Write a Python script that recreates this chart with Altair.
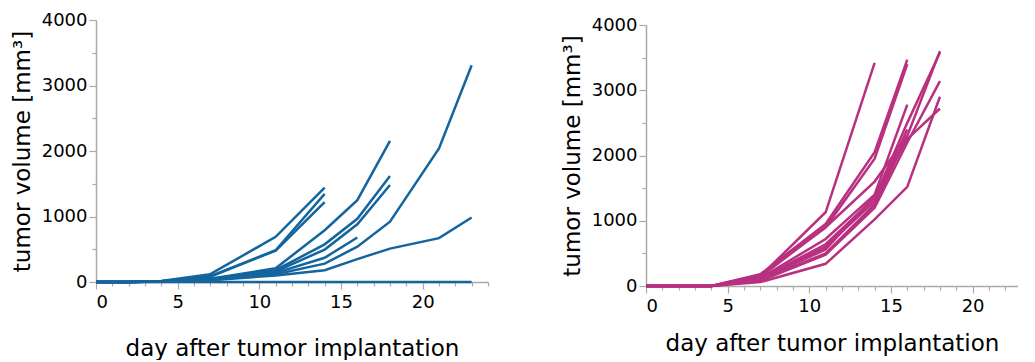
import altair as alt
import pandas as pd

BLUE = "#14659e"
MAGENTA = "#b8307f"
FONT = "DejaVu Sans"

# ---------------- left panel (blue) ----------------
left_days_14 = [0, 2, 4, 7, 11, 14]
left_days_16 = [0, 2, 4, 7, 11, 14, 16]
left_days_18 = [0, 2, 4, 7, 11, 14, 16, 18]
left_days_23 = [0, 2, 4, 7, 11, 14, 16, 18, 21, 23]

left_a = [0, 0, 15, 120, 690, 1440]
left_b = [0, 0, 12, 90, 485, 1345]
left_c = [0, 0, 12, 80, 480, 1220]
left_d = [0, 0, 10, 50, 210, 790, 1250, 2155]
left_e = [0, 0, 8, 45, 180, 575, 965, 1620]
left_f = [0, 0, 8, 40, 160, 495, 880, 1480]
left_g = [0, 0, 6, 35, 140, 370, 680]
left_h = [0, 0, 6, 30, 120, 280, 540, 920, 2040, 3310]
left_i = [0, 0, 5, 25, 100, 180, 350, 510, 670, 985]
left_j = [0, 0, 0, 0, 0, 0, 0, 0, 0, 0]

left_series = [
    ("a", left_days_14, left_a), ("b", left_days_14, left_b), ("c", left_days_14, left_c),
    ("d", left_days_18, left_d), ("e", left_days_18, left_e), ("f", left_days_18, left_f),
    ("g", left_days_16, left_g), ("h", left_days_23, left_h), ("i", left_days_23, left_i),
    ("j", left_days_23, left_j),
]

# ---------------- right panel (magenta) ----------------
right_days_14 = [0, 4, 7, 11, 14]
right_days_16 = [0, 4, 7, 11, 14, 16]
right_days_18 = [0, 4, 7, 11, 14, 16, 18]

right_1 = [0, 0, 150, 1130, 3420]
right_2 = [0, 0, 180, 950, 2050, 3470]
right_3 = [0, 0, 170, 900, 1950, 3400]
right_4 = [0, 0, 120, 720, 1400, 2780]
right_5 = [0, 0, 100, 600, 1300, 2400]
right_6 = [0, 0, 90, 500, 1250, 2300]
right_7 = [0, 0, 140, 900, 1600, 2300, 3600]
right_8 = [0, 0, 110, 640, 1350, 2500, 3580]
right_9 = [0, 0, 80, 480, 1200, 2200, 3140]
right_10 = [0, 0, 60, 340, 1020, 1520, 2900]
right_11 = [0, 0, 100, 560, 1380, 2250, 2720]

right_series = [
    ("1", right_days_14, right_1), ("2", right_days_16, right_2), ("3", right_days_16, right_3),
    ("4", right_days_16, right_4), ("5", right_days_16, right_5), ("6", right_days_16, right_6),
    ("7", right_days_18, right_7), ("8", right_days_18, right_8), ("9", right_days_18, right_9),
    ("10", right_days_18, right_10), ("11", right_days_18, right_11),
]

x_tick_values = list(range(0, 25))
y_tick_values = list(range(0, 4001, 500))


def to_frame(series):
    rows = []
    for sid, days, vols in series:
        for d, v in zip(days, vols):
            rows.append({"id": sid, "day": d, "vol": v})
    return pd.DataFrame(rows)


def panel(df, color, width, height, top_gap, x_max, x_title_pad):
    x_axis = alt.Axis(
        values=[v for v in x_tick_values if v <= x_max],
        labelExpr="datum.value % 5 === 0 ? datum.label : ''",
        labelOverlap=False,
        tickSize={"condition": {"test": "datum.value % 5 === 0", "value": 7}, "value": 4},
        title="day after tumor implantation",
        titlePadding=x_title_pad,
        labelPadding=4,
    )
    y_axis = alt.Axis(
        values=y_tick_values,
        labelExpr="datum.value % 1000 === 0 ? datum.label : ''",
        labelOverlap=False,
        tickSize={"condition": {"test": "datum.value % 1000 === 0", "value": 7}, "value": 4},
        title="tumor volume [mm³]",
        titlePadding=7,
        labelPadding=2,
        format="d",
    )
    total_h = height + top_gap
    return alt.Chart(df).mark_line(color=color, strokeWidth=2.5).encode(
        x=alt.X("day:Q", scale=alt.Scale(domain=[0, x_max], nice=False), axis=x_axis),
        y=alt.Y(
            "vol:Q",
            scale=alt.Scale(domain=[0, 4000], nice=False, range=[total_h, top_gap]),
            axis=y_axis,
        ),
        detail="id:N",
        order="day:Q",
    ).properties(width=width, height=total_h)


left = panel(to_frame(left_series), BLUE, 392, 262, 0, 24, 26)
right = panel(to_frame(right_series), MAGENTA, 372, 261, 5, 22.78, 17)

chart = alt.concat(left, right, columns=2, spacing=72, align="none").properties(
    padding={"left": 3, "top": 3, "right": 0, "bottom": 0},
).configure_view(stroke=None).configure_axis(
    grid=False,
    domainColor="#aaaaaa",
    tickColor="#aaaaaa",
    domainWidth=1.5,
    tickWidth=1.2,
    labelFont=FONT,
    titleFont=FONT,
    labelFontSize=18,
    titleFontSize=23,
    titleFontWeight="normal",
    labelColor="#000000",
    titleColor="#000000",
)

chart.save("out.html", embed_options={"renderer": "svg", "actions": False})
